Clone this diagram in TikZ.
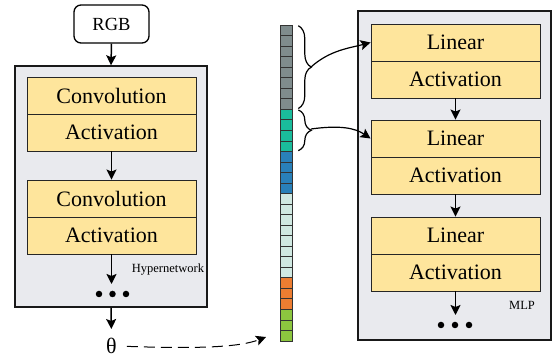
\documentclass[tikz,border=0pt]{standalone}
\usepackage{fontspec}
\setmainfont{Liberation Serif}
\usetikzlibrary{arrows.meta,decorations.pathreplacing}
\definecolor{panelgray}{RGB}{233,234,238}
\definecolor{layeryellow}{RGB}{254,229,156}
\definecolor{vgray}{RGB}{127,140,141}
\definecolor{vteal}{RGB}{26,188,156}
\definecolor{vblue}{RGB}{41,128,185}
\definecolor{vlight}{RGB}{208,233,226}
\definecolor{vorange}{RGB}{237,125,49}
\definecolor{vgreen}{RGB}{140,198,63}

\begin{document}
\begin{tikzpicture}[x=1pt,y=-1pt]
\tikzstyle{every node}+=[inner sep=0pt]
\tikzstyle{panel}=[draw=black!90,line width=1.4pt,fill=panelgray]
\tikzstyle{layer}=[draw=black!85,line width=0.9pt,fill=layeryellow,minimum width=169pt,minimum height=37pt,font=\fontsize{22}{22}\selectfont]
\tikzstyle{cell}=[draw=black!80,line width=0.6pt,minimum width=12pt,minimum height=10.53pt]
\tikzstyle{arr}=[-{Stealth[length=10pt,width=10pt,inset=2pt]},line width=1.5pt]
\tikzstyle{dot}=[circle,fill=black,minimum size=6.5pt]
\tikzstyle{bracket}=[decorate,decoration={brace,amplitude=13pt},line width=1.2pt]
\useasboundingbox (0,0) rectangle (558,358);
\node[panel,minimum width=192pt,minimum height=241pt] (hyper) at (111,186.5) {};
\node[draw=black,line width=1.3pt,rounded corners=7pt,minimum width=75pt,minimum height=38pt,font=\fontsize{18.5}{18.5}\selectfont] (rgb) at (111.5,24) {RGB};
\node[layer] (conv1) at (111.5,95.5) {Convolution};
\node[layer] (act1) at (111.5,132.5) {Activation};
\node[layer] (conv2) at (111.5,198.5) {Convolution};
\node[layer] (act2) at (111.5,235.5) {Activation};
\coordinate (hend) at (111.5,284);
\node[dot] (hd1) at (99,294) {};
\node[dot] (hd2) at (112.5,294) {};
\node[dot] (hd3) at (126,294) {};
\node[font=\fontsize{12.5}{12.5}\selectfont] (hlabel) at (168,270) {Hypernetwork};
\node[font=\fontsize{22}{22}\selectfont] (theta) at (111.5,346) {θ};
\draw[arr] (rgb.south) -- (hyper.north);
\draw[arr] (act1.south) -- (conv2.north);
\draw[arr] (act2.south) -- (hend);
\draw[arr,shorten >=9pt] (hyper.south) -- (theta.north);

\foreach \col [count=\i] in {vgray,vgray,vgray,vgray,vgray,vgray,vgray,vgray,vteal,vteal,vteal,vteal,vblue,vblue,vblue,vblue,vlight,vlight,vlight,vlight,vlight,vlight,vlight,vlight,vorange,vorange,vorange,vgreen,vgreen,vgreen}
  \node[cell,fill=\col] (c\i) at (286,{25+(\i-0.5)*10.53}) {};
\coordinate (vtip) at (266,337);
\draw[arr,dashed,dash pattern=on 11pt off 6pt,line width=1pt,shorten <=10pt] (theta.east) .. controls (200,349) and (240,347) .. (vtip);
\draw[bracket] ([xshift=6pt,yshift=-1pt]c1.north east) -- ([xshift=6pt,yshift=1pt]c8.south east);
\draw[bracket] ([xshift=6pt,yshift=-1pt]c9.north east) -- ([xshift=6pt,yshift=1pt]c12.south east);
\coordinate (b1) at (311,67);
\coordinate (b2) at (311,129);

\node[panel,minimum width=193pt,minimum height=329pt] (mlp) at (454.5,175.5) {};
\node[layer] (lin1) at (455.5,42.5) {Linear};
\node[layer] (mact1) at (455.5,79.5) {Activation};
\node[layer] (lin2) at (455.5,138.5) {Linear};
\node[layer] (mact2) at (455.5,175.5) {Activation};
\node[layer] (lin3) at (455.5,235.5) {Linear};
\node[layer] (mact3) at (455.5,272.5) {Activation};
\coordinate (mend) at (455.5,315);
\node[dot] (md1) at (441,325) {};
\node[dot] (md2) at (455,325) {};
\node[dot] (md3) at (469,325) {};
\node[font=\fontsize{12.5}{12.5}\selectfont] (mlabel) at (522,305) {MLP};
\draw[arr] (mact1.south) -- (lin2.north);
\draw[arr] (mact2.south) -- (lin3.north);
\draw[arr] (mact3.south) -- (mend);
\draw[arr,line width=1.2pt] (b1) .. controls (330,50) and (350,48) .. (lin1.west);
\draw[arr,line width=1.2pt] (b2) .. controls (340,125) and (355,128) .. (lin2.west);
\end{tikzpicture}
\end{document}
